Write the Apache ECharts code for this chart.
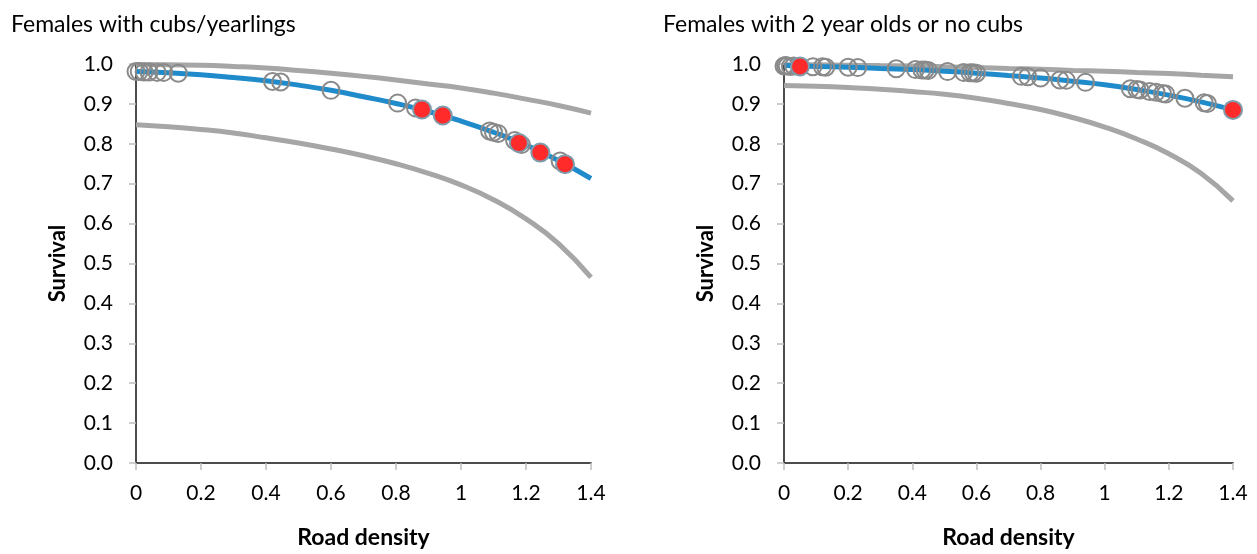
<!DOCTYPE html>
<html>
<head>
<meta charset="utf-8" />
<title>Survival vs road density</title>
<script src="https://cdn.jsdelivr.net/npm/echarts@6/dist/echarts.min.js"></script>
<style>
  html, body { margin: 0; padding: 0; background: #fff; }
  #main { width: 1257px; height: 554px; }
</style>
</head>
<body>
<div id="main"></div>
<script>
// curve knots (road density) shared by all fitted lines
var curveX = [0, 0.1, 0.2, 0.3, 0.4, 0.5, 0.6, 0.7, 0.8, 0.9, 1.0, 1.1, 1.2, 1.3, 1.4];

// Females with cubs/yearlings
var cubsFit   = [0.981, 0.978, 0.973, 0.966, 0.958, 0.947, 0.934, 0.918, 0.901, 0.881, 0.857, 0.829, 0.797, 0.758, 0.713];
var cubsUpper = [0.999, 0.998, 0.997, 0.994, 0.990, 0.984, 0.977, 0.969, 0.960, 0.950, 0.940, 0.927, 0.912, 0.896, 0.877];
var cubsLower = [0.848, 0.843, 0.836, 0.827, 0.815, 0.802, 0.787, 0.770, 0.750, 0.726, 0.697, 0.660, 0.612, 0.550, 0.465];
var cubsObsX  = [0, 0.01, 0.025, 0.04, 0.065, 0.085, 0.13, 0.42, 0.445, 0.6, 0.805, 0.86, 1.088, 1.1, 1.114, 1.165, 1.186, 1.305];
var cubsObsY  = [0.981, 0.981, 0.980, 0.980, 0.979, 0.979, 0.977, 0.956, 0.955, 0.934, 0.902, 0.890, 0.832, 0.829, 0.826, 0.808, 0.798, 0.757];
var cubsRedX  = [0.88, 0.944, 1.178, 1.244, 1.32];
var cubsRedY  = [0.886, 0.871, 0.802, 0.778, 0.749];

// Females with 2 year olds or no cubs
var noCubsFit   = [0.996, 0.994, 0.992, 0.989, 0.986, 0.982, 0.977, 0.971, 0.965, 0.957, 0.948, 0.936, 0.922, 0.905, 0.885];
var noCubsUpper = [0.998, 0.998, 0.997, 0.996, 0.995, 0.993, 0.991, 0.989, 0.987, 0.984, 0.982, 0.979, 0.976, 0.972, 0.968];
var noCubsLower = [0.946, 0.944, 0.941, 0.937, 0.931, 0.924, 0.914, 0.901, 0.886, 0.866, 0.842, 0.812, 0.775, 0.726, 0.657];
var noCubsObsX  = [0, 0.005, 0.01, 0.02, 0.03, 0.09, 0.12, 0.13, 0.2, 0.23, 0.35, 0.41, 0.43, 0.44, 0.45, 0.51, 0.56, 0.58, 0.59, 0.6,
                   0.74, 0.76, 0.8, 0.86, 0.88, 0.94, 1.08, 1.1, 1.11, 1.14, 1.16, 1.18, 1.19, 1.25, 1.31, 1.32];
var noCubsObsY  = [0.995, 0.996, 0.995, 0.994, 0.995, 0.993, 0.993, 0.992, 0.992, 0.991, 0.988, 0.986, 0.985, 0.985, 0.984, 0.981, 0.979, 0.978, 0.978, 0.977,
                   0.969, 0.968, 0.965, 0.960, 0.959, 0.954, 0.938, 0.936, 0.935, 0.931, 0.929, 0.926, 0.925, 0.914, 0.903, 0.901];
var noCubsRedX  = [0.05, 1.4];
var noCubsRedY  = [0.994, 0.885];

var titles = ['Females with cubs/yearlings', 'Females with 2 year olds or no cubs'];

function pairs(xs, ys) {
  return xs.map(function (x, i) { return [x, ys[i]]; });
}

var font = 'Lato, "Open Sans", sans-serif';
var axisGray = '#bfbfbf';

function xAxisFor(g) {
  return {
    type: 'value', gridIndex: g, min: 0, max: 1.4, interval: 0.2,
    name: 'Road density', nameLocation: 'middle', nameGap: 63,
    nameTextStyle: { fontFamily: font, fontSize: 23, fontWeight: 'bold', color: '#000' },
    axisLine: { show: true, lineStyle: { color: axisGray, width: 1.5 } },
    axisTick: { show: true, length: 7, lineStyle: { color: axisGray, width: 1.5 } },
    axisLabel: { margin: 20, fontFamily: font, fontSize: 21, color: '#000' },
    splitLine: { show: false }
  };
}
function yAxisFor(g) {
  return {
    type: 'value', gridIndex: g, min: 0, max: 1, interval: 0.1,
    name: 'Survival', nameLocation: 'middle', nameGap: 67,
    nameTextStyle: { fontFamily: font, fontSize: 22, fontWeight: 'bold', color: '#000' },
    axisLine: { show: true, lineStyle: { color: axisGray, width: 1.5 } },
    axisTick: { show: true, length: 7, lineStyle: { color: axisGray, width: 1.5 } },
    axisLabel: { margin: 23, fontFamily: font, fontSize: 21, color: '#000',
                 formatter: function (v) { return v.toFixed(1); } },
    splitLine: { show: false }
  };
}
// top / right frame lines
function frameX(g) {
  return { type: 'value', gridIndex: g, min: 0, max: 1.4, position: 'top',
           axisLine: { show: true, lineStyle: { color: '#222', width: 1.5 } },
           axisTick: { show: false }, axisLabel: { show: false }, splitLine: { show: false } };
}
function frameY(g) {
  return { type: 'value', gridIndex: g, min: 0, max: 1, position: 'right',
           axisLine: { show: true, lineStyle: { color: '#222', width: 1.5 } },
           axisTick: { show: false }, axisLabel: { show: false }, splitLine: { show: false } };
}

function panelSeries(g, fit, upper, lower, obsX, obsY, redX, redY) {
  var line = function (ys, color, z) {
    return { type: 'line', xAxisIndex: g, yAxisIndex: g, data: pairs(curveX, ys), smooth: true,
             symbol: 'none', lineStyle: { color: color, width: 5 }, z: z, silent: true };
  };
  return [
    line(upper, '#a6a6a6', 2),
    line(lower, '#a6a6a6', 2),
    line(fit, '#1f8bcb', 3),
    { type: 'scatter', xAxisIndex: g, yAxisIndex: g, data: pairs(obsX, obsY), symbolSize: 17, clip: false,
      itemStyle: { color: 'rgba(0,0,0,0)', borderColor: '#8a8a8a', borderWidth: 2, opacity: 1 }, z: 4 },
    { type: 'scatter', xAxisIndex: g, yAxisIndex: g, data: pairs(redX, redY), symbolSize: 18, clip: false,
      itemStyle: { color: '#ff2a2a', borderColor: '#7f9cab', borderWidth: 2, opacity: 1 }, z: 5 }
  ];
}

var chart = echarts.init(document.getElementById('main'));
chart.setOption({
  backgroundColor: '#fff',
  animation: false,
  title: [
    { text: titles[0], left: 6, top: 8, textStyle: { fontFamily: font, fontSize: 23, fontWeight: 'normal', color: '#000' } },
    { text: titles[1], left: 658, top: 8, textStyle: { fontFamily: font, fontSize: 23, fontWeight: 'normal', color: '#000' } }
  ],
  grid: [
    { left: 136, right: 666, top: 64, bottom: 82 },
    { left: 784, right: 24, top: 64, bottom: 82 }
  ],
  xAxis: [xAxisFor(0), xAxisFor(1), frameX(0), frameX(1)],
  yAxis: [yAxisFor(0), yAxisFor(1), frameY(0), frameY(1)],
  series: [].concat(
    panelSeries(0, cubsFit, cubsUpper, cubsLower, cubsObsX, cubsObsY, cubsRedX, cubsRedY),
    panelSeries(1, noCubsFit, noCubsUpper, noCubsLower, noCubsObsX, noCubsObsY, noCubsRedX, noCubsRedY)
  )
});
</script>
</body>
</html>
